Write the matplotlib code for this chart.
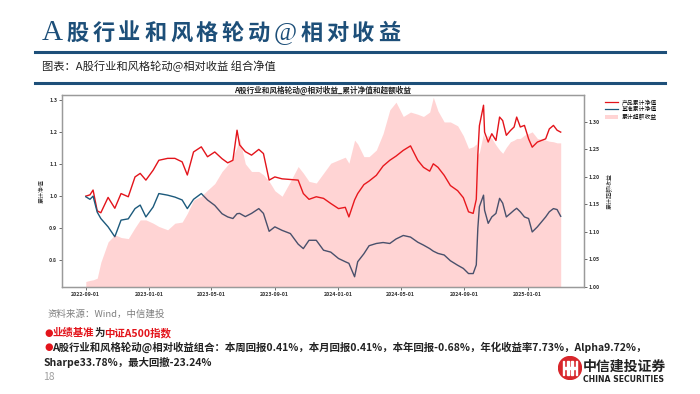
import matplotlib
matplotlib.use("Agg")
import matplotlib.pyplot as plt
import matplotlib.dates as mdates
from matplotlib.lines import Line2D
from matplotlib.patches import Patch, Circle, Rectangle
from matplotlib.ticker import FormatStrFormatter
import pandas as pd

# values
dates = [
    '2022-09-01', '2022-09-09', '2022-09-15', '2022-09-23', '2022-09-30', '2022-10-14',
    '2022-10-27', '2022-11-08', '2022-11-22', '2022-12-05', '2022-12-15', '2022-12-26',
    '2023-01-09', '2023-01-20', '2023-02-06', '2023-02-20', '2023-03-06', '2023-03-16',
    '2023-03-28', '2023-04-12', '2023-04-24', '2023-05-08', '2023-05-22', '2023-06-02',
    '2023-06-12', '2023-06-20', '2023-06-25', '2023-07-06', '2023-07-18', '2023-08-01',
    '2023-08-10', '2023-08-21', '2023-09-01', '2023-09-15', '2023-10-01', '2023-10-16',
    '2023-10-26', '2023-11-06', '2023-11-20', '2023-12-04', '2023-12-18', '2024-01-02',
    '2024-01-15', '2024-01-22', '2024-02-02', '2024-02-08', '2024-02-20', '2024-03-01',
    '2024-03-15', '2024-03-28', '2024-04-10', '2024-04-22', '2024-05-06', '2024-05-20',
    '2024-06-03', '2024-06-14', '2024-06-26', '2024-07-03', '2024-07-12', '2024-07-24',
    '2024-08-05', '2024-08-19', '2024-08-30', '2024-09-09', '2024-09-18', '2024-09-24',
    '2024-09-27', '2024-09-30', '2024-10-08', '2024-10-10', '2024-10-17', '2024-10-24',
    '2024-11-01', '2024-11-08', '2024-11-14', '2024-11-21', '2024-11-29', '2024-12-06',
    '2024-12-11', '2024-12-18', '2024-12-26', '2025-01-03', '2025-01-10', '2025-01-20',
    '2025-02-05', '2025-02-12', '2025-02-20', '2025-02-27', '2025-03-06',
]
product_nav = [
    1.000, 1.004, 1.019, 0.954, 0.948, 0.996, 0.962, 1.008, 0.998, 1.060, 1.071, 1.050,
    1.081, 1.112, 1.118, 1.118, 1.107, 1.066, 1.138, 1.154, 1.123, 1.138, 1.117, 1.104,
    1.112, 1.206, 1.160, 1.139, 1.128, 1.146, 1.133, 1.050, 1.060, 1.054, 1.052, 1.050,
    1.008, 0.990, 0.998, 0.993, 0.977, 0.961, 0.965, 0.935, 0.988, 1.008, 1.036, 1.047,
    1.065, 1.094, 1.112, 1.125, 1.143, 1.157, 1.112, 1.090, 1.078, 1.101, 1.090, 1.065,
    1.033, 1.017, 0.995, 0.951, 0.946, 0.990, 1.130, 1.220, 1.284, 1.200, 1.169, 1.195,
    1.174, 1.247, 1.236, 1.190, 1.205, 1.216, 1.247, 1.216, 1.221, 1.179, 1.153, 1.169,
    1.179, 1.210, 1.221, 1.206, 1.200,
]
bench_nav = [
    0.998, 0.990, 1.000, 0.950, 0.930, 0.904, 0.873, 0.925, 0.929, 0.961, 0.972, 0.935,
    0.966, 1.008, 1.003, 0.997, 0.988, 0.961, 0.990, 1.008, 0.988, 0.971, 0.945, 0.935,
    0.930, 0.945, 0.946, 0.936, 0.946, 0.961, 0.946, 0.890, 0.904, 0.893, 0.883, 0.850,
    0.836, 0.862, 0.862, 0.831, 0.825, 0.805, 0.795, 0.790, 0.748, 0.795, 0.820, 0.845,
    0.852, 0.855, 0.852, 0.866, 0.877, 0.872, 0.856, 0.847, 0.836, 0.828, 0.821, 0.816,
    0.798, 0.784, 0.774, 0.758, 0.758, 0.785, 0.900, 0.967, 1.003, 0.956, 0.915, 0.935,
    0.946, 0.993, 0.978, 0.935, 0.946, 0.956, 0.962, 0.951, 0.935, 0.930, 0.888, 0.904,
    0.935, 0.951, 0.961, 0.958, 0.937,
]
excess = [
    1.010, 1.012, 1.013, 1.016, 1.045, 1.082, 1.095, 1.090, 1.088, 1.108, 1.122, 1.122,
    1.116, 1.110, 1.104, 1.116, 1.118, 1.134, 1.158, 1.165, 1.176, 1.188, 1.210, 1.222,
    1.236, 1.255, 1.270, 1.224, 1.210, 1.210, 1.204, 1.192, 1.175, 1.165, 1.192, 1.219,
    1.207, 1.192, 1.189, 1.207, 1.225, 1.231, 1.236, 1.225, 1.267, 1.260, 1.237, 1.237,
    1.249, 1.279, 1.322, 1.336, 1.310, 1.318, 1.314, 1.310, 1.318, 1.345, 1.320, 1.300,
    1.300, 1.293, 1.275, 1.252, 1.255, 1.260, 1.240, 1.245, 1.280, 1.270, 1.276, 1.270,
    1.258, 1.249, 1.243, 1.254, 1.264, 1.267, 1.270, 1.270, 1.276, 1.279, 1.282, 1.270,
    1.267, 1.265, 1.264, 1.262, 1.262,
]
left_ticks = [0.8, 0.9, 1.0, 1.1, 1.2, 1.3]
right_ticks = [1.00, 1.05, 1.10, 1.15, 1.20, 1.25, 1.30]

CJK = ['Noto Sans CJK SC', 'DejaVu Sans']
plt.rcParams['font.family'] = CJK
plt.rcParams['axes.unicode_minus'] = False

W, H = 700, 394
BLUE_DARK = '#1d4f79'
RED = '#e3141b'
fig = plt.figure(figsize=(W / 100, H / 100), dpi=100)
fig.patch.set_facecolor('white')


def fx(x):
    return x / W


def fy(y):
    return 1 - y / H


def run_text(x, y, parts, gap=0, **kw):
    # draw pieces of text one after another on the same line
    renderer = fig.canvas.get_renderer()
    xf = fx(x)
    for s, opts in parts:
        t = fig.text(xf, fy(y), s, va='center', ha='left', **{**kw, **opts})
        xf += (t.get_window_extent(renderer).width + gap) / fig.bbox.width


# slide header, spaced out one glyph at a time
title_parts = [('A', dict(family=['Liberation Serif'], fontsize=21))]
title_parts += [(c, dict(fontsize=16, weight='bold')) for c in '股行业和风格轮动']
title_parts += [('@', dict(family=['Liberation Serif'], fontsize=18))]
title_parts += [(c, dict(fontsize=16, weight='bold')) for c in '相对收益']
run_text(42, 33, title_parts, gap=3.6, color=BLUE_DARK)
fig.add_artist(Line2D([fx(35), fx(665)], [fy(52), fy(52)], color=BLUE_DARK, lw=2.2))
fig.text(fx(42), fy(66), '图表：A股行业和风格轮动@相对收益 组合净值', fontsize=8.1,
         color='#222222', va='center')
fig.add_artist(Line2D([fx(35), fx(665)], [fy(83), fy(83)], color=BLUE_DARK, lw=2.2))

# chart
x = pd.to_datetime(dates)
ax = fig.add_axes([fx(62), fy(287), (584 - 62) / W, (287 - 95) / H])
ax.plot(x, product_nav, color=RED, lw=1.0)
ax.plot(x, bench_nav, color='#1c5a7c', lw=1.0)
ax.set_ylim(0.716, 1.316)
ax.set_xlim(pd.Timestamp('2022-07-17'), pd.Timestamp('2025-04-20'))
ax.set_yticks(left_ticks)
ax.yaxis.set_major_formatter(FormatStrFormatter('%.1f'))
ax.xaxis.set_major_locator(mdates.MonthLocator(bymonth=[1, 5, 9]))
ax.xaxis.set_major_formatter(mdates.DateFormatter('%Y-%m-%d'))

ax2 = ax.twinx()
ax2.fill_between(x, 1.0, excess, color='#ff2a2a', alpha=0.2, lw=0)
ax2.set_ylim(1.0, 1.349)
ax2.set_yticks(right_ticks)
ax2.yaxis.set_major_formatter(FormatStrFormatter('%.2f'))

for a in (ax, ax2):
    a.tick_params(labelsize=3.8, length=2, width=0.5, pad=1.5, colors='#333333')
    for lbl in a.get_xticklabels() + a.get_yticklabels():
        lbl.set_fontweight('bold')
    for sp in a.spines.values():
        sp.set_color('#9a9a9a')
        sp.set_linewidth(0.9)

ax.set_title('A股行业和风格轮动@相对收益_累计净值和超额收益', fontsize=5.5,
             fontweight='bold', pad=1.5, color='#222222')
ax.set_ylabel('累计净值', fontsize=4.3, labelpad=3, color='#333333')
ax2.set_ylabel('累计超额收益', fontsize=4.3, labelpad=5, color='#333333')

handles = [
    Line2D([], [], color=RED, lw=0.9),
    Line2D([], [], color='#1c5a7c', lw=0.9),
    Patch(facecolor='#ff2a2a', alpha=0.2, lw=0),
]
labels = ['产品累计净值', '基准累计净值', '累计超额收益']
ax2.legend(handles, labels, loc='upper left', bbox_to_anchor=(fx(601), fy(95)),
           bbox_transform=fig.transFigure, frameon=False, fontsize=4.2,
           handlelength=2.3, handleheight=0.6, handletextpad=0.6, labelspacing=0.3,
           borderpad=0.2)

# notes under the chart
fig.text(fx(47), fy(314), '资料来源：Wind，中信建投', fontsize=6.8, color='#7f7f7f',
         style='italic', va='center')
bullet = dict(color=RED, family=['DejaVu Sans'], fontsize=7)
run_text(44, 333, [
    ('●', bullet),
    ('业绩基准', dict(color=RED)),
    ('为', dict(color='#222222')),
    ('中证A500指数', dict(color=RED)),
], fontsize=7.5, weight='bold')
run_text(44, 347, [
    ('●', bullet),
    ('A股行业和风格轮动@相对收益组合：本周回报0.41%，本月回报0.41%，本年回报-0.68%，'
     '年化收益率7.73%，Alpha9.72%，', dict(color='#222222')),
], fontsize=7.5, weight='bold')
fig.text(fx(44), fy(362), 'Sharpe33.78%，最大回撤-23.24%', fontsize=7.5, weight='bold',
         color='#222222', va='center')
fig.text(fx(43), fy(377), '18', fontsize=7.5, color='#a0a0a0', va='center')

# company logo
lax = fig.add_axes([fx(558), fy(380), 24 / W, 24 / H])
lax.set_xlim(-1.05, 1.05)
lax.set_ylim(-1.05, 1.05)
lax.set_aspect('equal')
lax.axis('off')
lax.add_patch(Circle((0, 0), 1.0, color='#d8262b'))
for bx in (-0.55, -0.18, 0.18, 0.55):
    lax.add_patch(Rectangle((bx - 0.06, -0.62), 0.12, 1.24, color='white'))
lax.add_patch(Rectangle((-0.55, -0.06), 1.1, 0.12, color='white'))
fig.text(fx(583), fy(367), '中信建投证券', fontsize=10, weight='bold', color='#222222',
         va='center')
fig.text(fx(583), fy(380), 'CHINA SECURITIES', fontsize=5.6, weight='bold',
         color='#222222', va='center', family=['DejaVu Sans'])

fig.savefig('out.png', dpi=100, facecolor='white')
